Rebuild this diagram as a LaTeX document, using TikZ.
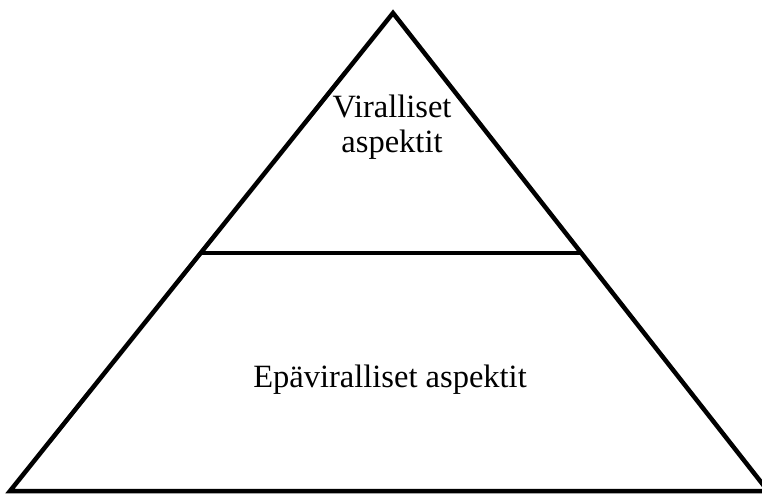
\documentclass[tikz,border=0pt]{standalone}
\usepackage{fontspec}
\setmainfont{Liberation Serif}
\begin{document}
\begin{tikzpicture}[x=1pt,y=-1pt,
  edge/.style={line width=4.5pt, line join=miter},
  label/.style={font=\fontsize{32.5}{35}\selectfont, align=center, inner sep=0pt}]
\useasboundingbox (0,0) rectangle (762,495);
% pyramid outline
\coordinate (apex) at (393,13);
\coordinate (bl) at (10,491);
\coordinate (br) at (768,491);
\draw[edge] (apex) -- (bl) -- (br) -- cycle;
% dividing level
\coordinate (dl) at (202,253);
\coordinate (dr) at (583,253);
\draw[edge] (dl) -- (dr);
% level labels
\node[label, anchor=base] (top) at (392,152) {Viralliset\\aspektit};
\node[label, anchor=base] (bottom) at (390,387) {Epäviralliset aspektit};
\end{tikzpicture}
\end{document}
